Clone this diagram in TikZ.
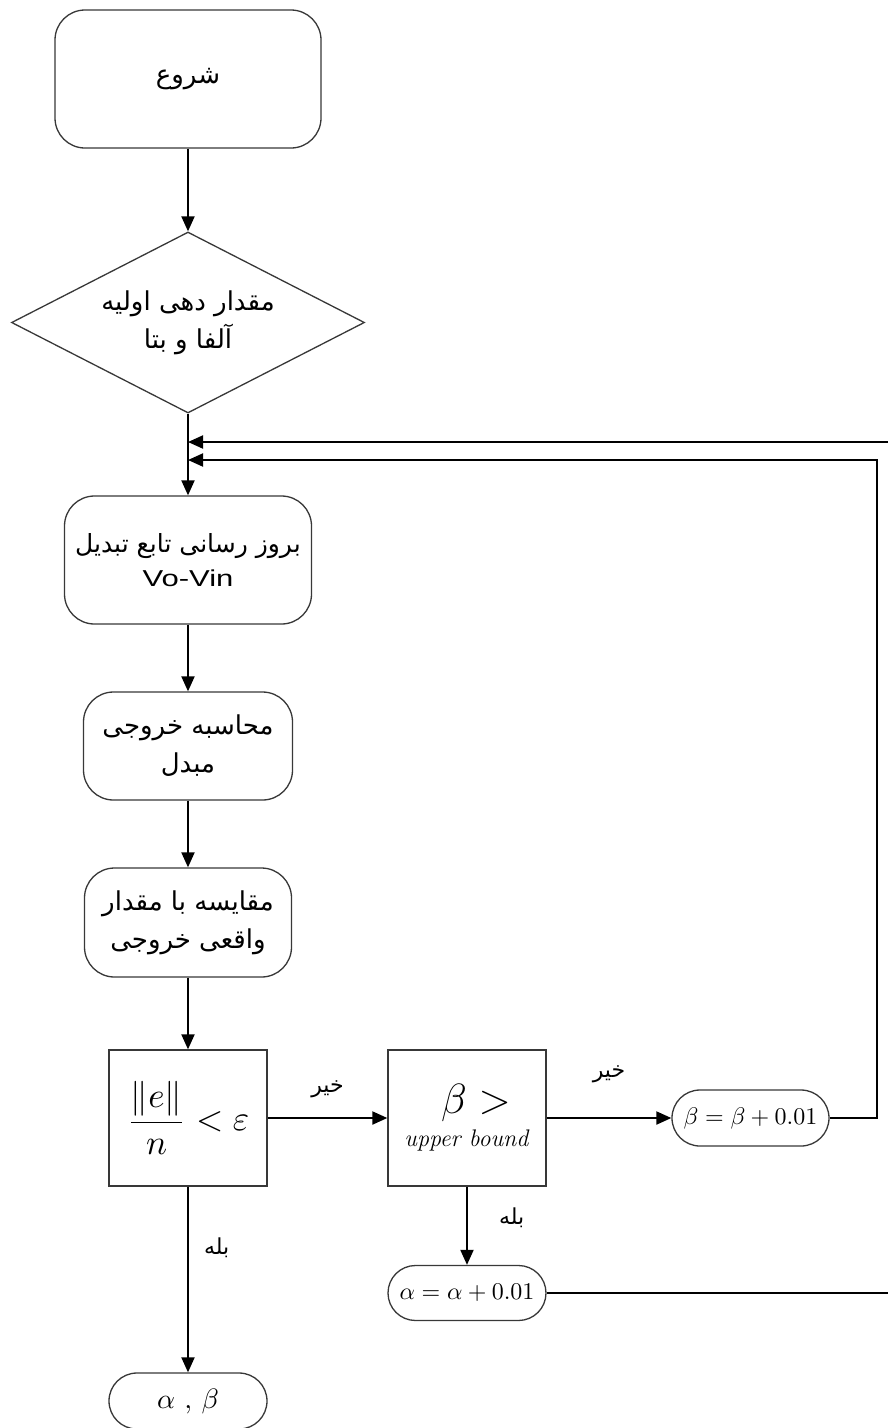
\documentclass[tikz,border=0pt]{standalone}
\usepackage{fontspec}
\usepackage{graphicx}
\usetikzlibrary{arrows.meta,shapes.misc,shapes.geometric}
\newfontfamily\fafont[Script=Arabic]{DejaVu Sans}
\newfontfamily\sansfont{Liberation Sans}
\TeXXeTstate=1
% one right-to-left line of Persian text
\newcommand{\rl}[1]{\beginR #1\endR}
% formula set at 10pt and enlarged
\newcommand{\bigmath}[2]{\scalebox{#1}{$\displaystyle #2$}}
\tikzset{
  frame/.style={draw=black!78, line width=1.3pt, align=center, inner sep=0pt},
  roundbox/.style={frame, rounded corners=30pt},
  oval/.style={frame, rounded rectangle},
  decision/.style={frame, diamond},
  squarebox/.style={frame},
  fatext/.style={font=\fafont\fontsize{26}{38}\selectfont},
  flow/.style={draw=black, line width=2pt, -{Triangle[length=15pt,width=13pt]}},
  tag/.style={font=\fafont\fontsize{22}{24}\selectfont, inner sep=1pt}
}
\begin{document}
\begin{tikzpicture}[x=1pt,y=-1pt]
\clip (0,0) rectangle (888,1428);
\fill[white] (0,0) rectangle (888,1428);

% main column
\node[roundbox, fatext, minimum width=266pt, minimum height=138pt] (start) at (188,79)
  {\raisebox{-7pt}{\rl{شروع}}};
\node[decision, fatext, minimum width=353pt, minimum height=181pt, aspect=1.95] (init) at (188,322.5)
  {\rl{مقدار دهی اولیه}\\\rl{آلفا و بتا}};
\node[roundbox, minimum width=247pt, minimum height=128pt, font=\fontsize{25}{34}\selectfont] (update) at (188,560)
  {{\fafont\rl{بروز رسانی تابع تبدیل}}\\{\sansfont\fontsize{23}{34}\selectfont\scalebox{1.35}[1]{Vo-Vin}}};
\node[roundbox, fatext, minimum width=209pt, minimum height=108pt] (calc) at (188,746)
  {\rl{محاسبه خروجی}\\\rl{مبدل}};
\node[roundbox, fatext, minimum width=207pt, minimum height=109pt] (comp) at (188,922.5)
  {\rl{مقایسه با مقدار}\\\rl{واقعی خروجی}};
\node[squarebox, minimum width=158pt, minimum height=136pt] (test) at (188,1118)
  {\bigmath{3.5}{\frac{\|e\|}{n}<\varepsilon}};
\node[oval, minimum width=158pt, minimum height=56pt] (out) at (188,1401)
  {\bigmath{2.8}{\alpha\ ,\,\beta}};

% second column
\node[squarebox, minimum width=158pt, minimum height=136pt, font=\fontsize{24}{37}\selectfont] (bound) at (467,1118)
  {\hspace*{18pt}\bigmath{1.7}{\beta>}\\[-4pt]\textit{upper bound}};
\node[oval, minimum width=157pt, minimum height=56pt] (incb) at (750.5,1118)
  {\bigmath{2.4}{\beta=\beta+0.01}};
\node[oval, minimum width=158pt, minimum height=55pt] (inca) at (467,1293)
  {\bigmath{2.4}{\alpha=\alpha+0.01}};

% junctions where the two loops re-enter the main column
\coordinate (j1) at (188,442);
\coordinate (j2) at (188,460);
\coordinate (loopB) at (877,460);
\coordinate (loopA) at (900,442);

% connectors
\draw[flow] (start.south) -- (init.north);
\draw[flow] (init.south) -- (update.north);
\draw[flow] (update.south) -- (calc.north);
\draw[flow] (calc.south) -- (comp.north);
\draw[flow] (comp.south) -- (test.north);
\draw[flow] (test.east) -- node[tag, above=18pt] {\rl{خیر}} (bound.west);
\draw[flow] (bound.east) -- node[tag, above=33pt] {\rl{خیر}} (incb.west);
\draw[flow] (bound.south) -- node[tag, right=30pt, pos=0.4] {\rl{بله}} (inca.north);
\draw[flow] (test.south) -- node[tag, right=14pt, pos=0.33] {\rl{بله}} (out.north);
\draw[flow] (incb.east) -| (loopB) -- (j2);
\draw[flow] (inca.east) -| (loopA) -- (j1);
\end{tikzpicture}
\end{document}
